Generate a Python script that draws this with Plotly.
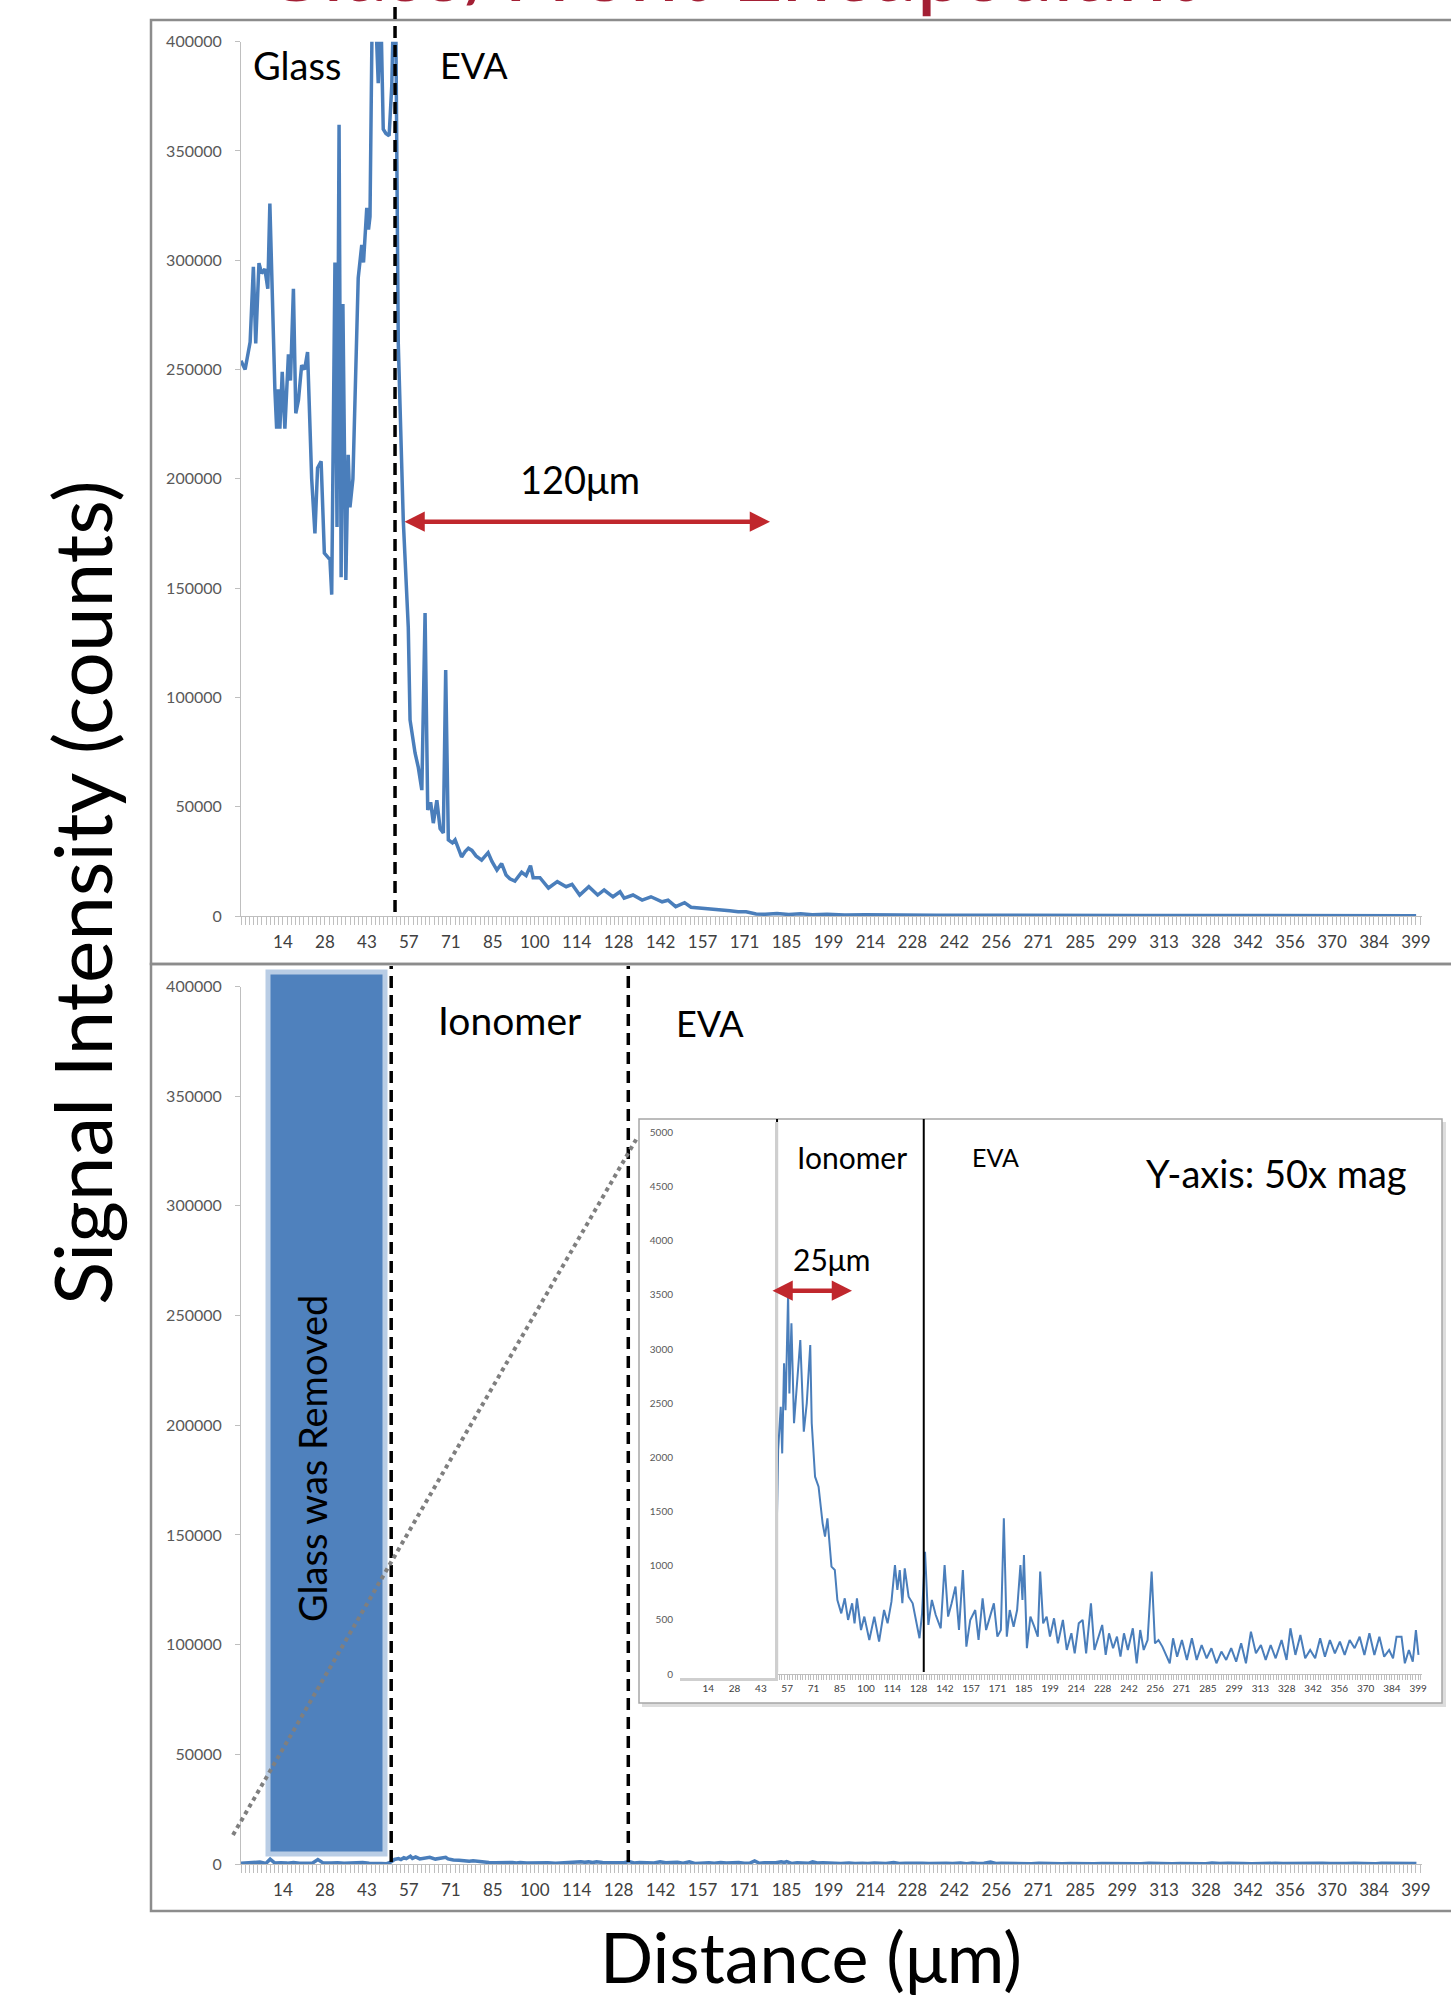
import plotly.graph_objects as go

# ---------------- data ----------------
DIST_TOP = [0, 1.4, 3.1, 4.2, 5.0, 6.1, 7.0, 8.1, 9.1, 9.8, 11.5, 12.1, 12.7, 13.2, 14.0, 14.9,
            16.1, 16.8, 17.8, 18.6, 19.5, 20.6, 21.6, 22.6, 24.0, 25.1, 26.0, 27.2, 28.3, 30.2,
            30.8, 31.9, 32.6, 33.3, 34.0, 34.6, 35.6, 36.4, 37.0, 38.0, 39.8, 41.0, 41.6, 42.7,
            43.3, 43.8, 44.6, 45.5, 46.6, 47.4, 48.3, 49.2, 50.3, 51.2, 52.0, 52.5, 53.4, 54.6,
            55.1, 56.8, 57.4, 59.1, 60.2, 61.4, 62.5, 63.4, 64.4, 65.3, 66.5, 67.6, 68.7, 69.5,
            70.4, 71.8, 72.7, 74.9, 76.1, 77.2, 78.4, 79.8, 81.7, 83.9, 85.2, 86.9, 88.5, 90.0,
            91.3, 93.0, 95.3, 96.8, 98.3, 99.2, 101.5, 104.4, 107.4, 110.4, 112.4, 115.0, 118.1,
            121.1, 123.3, 126.3, 128.7, 130.1, 133.1, 136.2, 139.2, 143.0, 145.0, 147.6, 150.6,
            152.8, 155.9, 159.3, 162.6, 166.0, 168.8, 171.5, 174.9, 178, 182, 186, 190, 194, 199,
            205, 212, 220, 228, 236, 245, 255, 265, 275, 290, 305, 320, 335, 350, 365, 380, 399]
SIGNAL_TOP = [254000, 250000, 262600, 297000, 262000, 298700, 294000, 296000, 287000, 326000,
              241000, 223000, 241000, 223000, 249000, 223000, 257000, 245000, 287000, 230000,
              236000, 252000, 250000, 258000, 200000, 175000, 205000, 208000, 166000, 163000,
              147000, 299000, 178000, 362000, 155000, 280000, 153700, 211000, 187000, 200000,
              292000, 307000, 299000, 324000, 314000, 320000, 420000, 420000, 381000, 420000,
              360000, 358000, 357000, 380000, 430000, 420000, 262000, 208600, 181000, 132000,
              89700, 74600, 68000, 57600, 138600, 48500, 52000, 42500, 53000, 40000, 38000,
              112500, 34800, 33400, 34800, 27000, 29500, 31000, 30000, 27500, 25600, 29000,
              25000, 21000, 24000, 18800, 17000, 16000, 20000, 18500, 23000, 17500, 17500, 12800,
              15700, 13400, 14500, 9600, 13400, 9600, 11900, 8800, 11100, 8200, 9600, 7300, 8800,
              6500, 7200, 4300, 6100, 4000, 3700, 3000, 2700, 2400, 2000, 1900, 900, 800, 1100,
              700, 1000, 600, 800, 500, 600, 400, 500, 350, 400, 300, 280, 250, 220, 200, 220,
              180, 200, 170, 190, 160]

DIST_BOTTOM = [0, 2.1, 4.3, 6.4, 8.5, 9.9, 11.5, 13.5, 15.7, 17.8, 19.9, 22.1, 24.2, 26.1, 28.0,
               30.6, 32.8, 35.0, 37.1, 39.2, 41.3, 43.5, 45.6, 47.7, 49.5,
               50.8, 52.1, 53.5, 54.3, 55.3, 56.1, 57.5, 58.2, 59.3, 60.7, 62.3, 64.1, 66.0,
               67.6, 69.5, 70.3, 72.1, 74.0, 76.2, 77.5, 78.8, 81.0, 82.8, 84.2, 86.3, 88.2,
               90.0, 92.2, 93.5, 94.8, 97.0, 98.8, 101.5, 104.2, 106.8, 109.5, 111.4, 113.5,
               115.4, 116.7, 118.0, 119.4, 120.7, 122.8, 125.0, 126.8, 128.7, 130.1, 131.7,
               133.5, 135.4, 137.5, 140.2, 142.3, 144.2, 146.1, 148.2, 150.1, 152.2, 154.1,
               156.2, 158.9, 160.7, 162.9, 164.8, 166.9, 169.0, 170.9, 172.8, 174.4, 176.0,
               177.6, 179.7, 181.6, 183.4, 184.5, 185.3, 186.9, 188.8, 190.9, 192.8, 194.1,
               195.7, 197.6, 199.4, 201.6, 203.7, 206.4, 208.5, 211.0, 212.8, 215.0, 217.1,
               219.0, 221.6, 223.5, 225.6, 227.7, 229.6, 231.4, 233.6, 235.7, 237.6, 239.5,
               241.6, 244.3, 246.4, 248.3, 250.2, 252.3, 254.5, 256.3, 258.2, 260.3, 264.3,
               266.1, 268.3, 270.9, 273.6, 276.3, 278.9, 281.6, 284.3, 286.9, 289.6, 292.3,
               294.9, 297.6, 300.3, 303.0, 305.6, 308.3, 311.0, 313.7, 316.3, 319.0, 321.7,
               324.9, 327.6, 329.7, 332.4, 335.1, 337.7, 340.4, 343.1, 345.8, 348.4, 351.1,
               353.8, 356.5, 359.1, 361.8, 364.5, 367.2, 369.8, 372.5, 375.2, 377.9, 380.5,
               383.2, 385.3, 387.2, 389.9, 391.7, 393.9, 396.0, 397.7, 399.1]
SIGNAL_BOTTOM = [300, 500, 350, 900, 300, 2200, 400, 600, 400, 700, 300, 500, 350, 2000, 400,
                 400, 600, 300, 500, 350, 700, 300, 400, 200, 129,
                 837, 2068, 2468, 2037, 2869, 2436, 3515, 2591, 3238, 2315, 2683, 3084, 2237,
                 2499, 3038, 2315, 1822, 1729, 1391, 1268, 1437, 991, 960, 683, 560, 699,
                 499, 653, 468, 699, 406, 530, 314, 530, 299, 591, 468, 668,
                 1006, 776, 960, 653, 976, 714, 653, 499, 330, 560, 1129,
                 453, 684, 545, 422, 1006, 530, 653, 807, 406, 960, 253,
                 499, 591, 314, 699, 406, 530, 653, 345, 406, 1437, 345,
                 591, 437, 591, 1006, 684, 1098, 238, 530, 437, 345, 945,
                 468, 530, 345, 514, 283, 499, 222, 376, 191, 468, 499,
                 191, 653, 222, 345, 453, 176, 376, 238, 345, 160, 376,
                 222, 422, 99, 406, 222, 314, 945, 283, 314, 253, 99,
                 330, 160, 314, 130, 330, 130, 268, 145, 238, 99, 207,
                 130, 238, 114, 283, 99, 391, 191, 268, 130, 268, 145,
                 314, 130, 422, 176, 360, 145, 222, 145, 330, 160, 314,
                 191, 299, 176, 314, 238, 345, 176, 376, 176, 345, 160,
                 222, 145, 345, 345, 99, 222, 114, 406, 176]

X_TICK_LABELS = ["14", "28", "43", "57", "71", "85", "100", "114", "128", "142", "157", "171",
                 "185", "199", "214", "228", "242", "256", "271", "285", "299", "313", "328",
                 "342", "356", "370", "384", "399"]
CATEGORY_STEP = 1.4248          # micrometres per measurement point
LABEL_EVERY = 10                # one label every 10 categories

GLASS_EVA_EDGE = 52.3           # top panel boundary (um)
IONOMER_START = 51.0            # bottom panel boundaries (um)
IONOMER_END = 131.5
INSET_EDGES = [51.5, 131.0]

# ---------------- layout helpers ----------------
W, H = 1451, 1997
def px(x):
    return x / W
def py(y):
    return 1 - y / H

BLUE = "#4A7EBB"
RED = "#C0272D"
TICK_FONT = "Liberation Sans Narrow, Arial Narrow, Lato, sans-serif"
TEXT_FONT = "Lato, Carlito, Open Sans, sans-serif"

tickvals = [CATEGORY_STEP * LABEL_EVERY * (k + 1) for k in range(len(X_TICK_LABELS))]

fig = go.Figure()
fig.add_trace(go.Scatter(x=DIST_TOP, y=SIGNAL_TOP, mode="lines",
                         line=dict(color=BLUE, width=3.5), xaxis="x", yaxis="y",
                         showlegend=False, hoverinfo="skip"))
fig.add_trace(go.Scatter(x=DIST_BOTTOM, y=SIGNAL_BOTTOM, mode="lines",
                         line=dict(color=BLUE, width=3.5), xaxis="x2", yaxis="y2",
                         showlegend=False, hoverinfo="skip"))
fig.add_trace(go.Scatter(x=DIST_BOTTOM, y=SIGNAL_BOTTOM, mode="lines",
                         line=dict(color=BLUE, width=2), xaxis="x3", yaxis="y3",
                         showlegend=False, hoverinfo="skip"))

def xaxis_cfg(domain, anchor, fsize, ticklen, standoff):
    return dict(domain=domain, anchor=anchor, range=[0, 401], showgrid=False, zeroline=False,
                showline=True, linecolor="#BFBFBF", linewidth=1, automargin=False,
                tickmode="array", tickvals=tickvals, ticktext=X_TICK_LABELS,
                ticks="outside", ticklen=ticklen, tickcolor="#BFBFBF", tickwidth=1,
                tickangle=0, ticklabelstandoff=standoff,
                tickfont=dict(family=TICK_FONT, size=fsize, color="#404040"),
                minor=dict(ticks="outside", ticklen=ticklen, tickcolor="#BFBFBF",
                           tick0=0, dtick=CATEGORY_STEP, showgrid=False),
                fixedrange=True)

def yaxis_cfg(domain, anchor, rng, dtick, fsize, showline, standoff):
    return dict(domain=domain, anchor=anchor, range=rng, dtick=dtick, tick0=0,
                showgrid=False, zeroline=False, showline=showline, linecolor="#BFBFBF",
                ticks="outside" if showline else "", ticklen=5, tickcolor="#BFBFBF",
                tickformat="d", ticklabelstandoff=standoff, automargin=False,
                tickfont=dict(family=TICK_FONT, size=fsize, color="#595959"),
                fixedrange=True)

fig.update_layout(
    width=W, height=H, margin=dict(l=0, r=0, t=0, b=0, pad=0, autoexpand=False),
    paper_bgcolor="white", plot_bgcolor="rgba(0,0,0,0)",
    xaxis=xaxis_cfg([px(241), px(1422)], "y", 17, 8, 3),
    yaxis=yaxis_cfg([py(916), py(41.7)], "x", [0, 400000], 50000, 16, True, 10),
    xaxis2=xaxis_cfg([px(241), px(1422)], "y2", 17, 8, 3),
    yaxis2=yaxis_cfg([py(1864), py(986.5)], "x2", [0, 400000], 50000, 16, True, 10),
    xaxis3=xaxis_cfg([px(682), px(1422)], "y3", 10, 5, 0),
    yaxis3=yaxis_cfg([py(1674), py(1132.5)], "x3", [0, 5000], 500, 10, False, 8),
)

shapes = []
# panel frames
shapes.append(dict(type="rect", xref="paper", yref="paper", x0=px(151), x1=px(1470),
                   y0=py(964), y1=py(20), line=dict(color="#8C8C8C", width=2.5), layer="below"))
shapes.append(dict(type="rect", xref="paper", yref="paper", x0=px(151), x1=px(1470),
                   y0=py(1911), y1=py(964), line=dict(color="#8C8C8C", width=2.5), layer="below"))
# inset frame with shadow
shapes.append(dict(type="rect", xref="paper", yref="paper", x0=px(642), x1=px(1446),
                   y0=py(1707), y1=py(1122), fillcolor="#DDDDDD", line=dict(width=0), layer="below"))
shapes.append(dict(type="rect", xref="paper", yref="paper", x0=px(639), x1=px(1442),
                   y0=py(1703), y1=py(1119), fillcolor="white",
                   line=dict(color="#A6A6A6", width=1.5), layer="below"))
# top dashed boundary
shapes.append(dict(type="line", xref="x", yref="paper", x0=GLASS_EVA_EDGE, x1=GLASS_EVA_EDGE,
                   y0=py(912), y1=1, line=dict(color="black", width=3.5, dash="12px,7px")))
# bottom dashed boundaries
for xb in [IONOMER_START, IONOMER_END]:
    shapes.append(dict(type="line", xref="x2", yref="paper", x0=xb, x1=xb,
                       y0=py(1862), y1=py(966), line=dict(color="black", width=3.5, dash="12px,7px")))
# inset solid boundaries
for xb in INSET_EDGES:
    shapes.append(dict(type="line", xref="x3", yref="paper", x0=xb, x1=xb,
                       y0=py(1672), y1=py(1119), line=dict(color="black", width=2)))
# inset white cover with shadow
shapes.append(dict(type="rect", xref="paper", yref="paper", x0=px(680), x1=px(778),
                   y0=py(1681), y1=py(1122), fillcolor="#CFCFCF", line=dict(width=0), layer="above"))
shapes.append(dict(type="rect", xref="paper", yref="paper", x0=px(677), x1=px(775),
                   y0=py(1678), y1=py(1120), fillcolor="white", line=dict(width=0), layer="above"))
# blue "glass was removed" block
shapes.append(dict(type="rect", xref="paper", yref="paper", x0=px(268), x1=px(385),
                   y0=py(1854), y1=py(972), fillcolor="#4F81BD",
                   line=dict(color="#B9CDE5", width=5), layer="above"))
# dotted zoom connector
shapes.append(dict(type="line", xref="paper", yref="paper", x0=px(233), y0=py(1835),
                   x1=px(637), y1=py(1138), line=dict(color="#7F7F7F", width=4, dash="dot"),
                   layer="above"))
fig.update_layout(shapes=shapes)

ann = []
def text(x, y, s, size, color="black", angle=0, family=TEXT_FONT, **kw):
    ann.append(dict(x=px(x), y=py(y), xref="paper", yref="paper", text=s, showarrow=False,
                    textangle=angle, font=dict(family=family, size=size, color=color),
                    xanchor="center", yanchor="middle", **kw))

# cut-off title at the very top
ann.append(dict(x=px(728), y=py(22), xref="paper", yref="paper", text="Glass/Front Encapsulant",
                showarrow=False, font=dict(family=TEXT_FONT, size=88, color="#A31F34"),
                xanchor="center", yanchor="bottom"))
text(297, 65, "Glass", 38)
text(474, 65, "EVA", 36)
text(580, 479, "120μm", 38)
text(509, 1020, "Ionomer", 39)
text(710, 1023, "EVA", 36)
text(312, 1459, "Glass was Removed", 38, angle=-90)
text(852, 1157, "Ionomer", 30)
text(995, 1157, "EVA", 25)
text(1276, 1173, "Y-axis: 50x mag", 38)
text(831, 1259, "25μm", 30)
text(81, 893, "Signal Intensity (counts)", 80, angle=-90)
text(811, 1956, "Distance (μm)", 70)

# double-headed red arrows
ann.append(dict(xref="paper", yref="paper", axref="pixel", ayref="pixel",
                x=px(770), y=py(521.7), ax=-(770 - 403), ay=0, text="", showarrow=True,
                arrowhead=2, arrowside="end+start", arrowsize=0.9, arrowwidth=4.5,
                arrowcolor=RED, standoff=0, startstandoff=0))
ann.append(dict(xref="paper", yref="paper", axref="pixel", ayref="pixel",
                x=px(852), y=py(1290.7), ax=-(852 - 771), ay=0, text="", showarrow=True,
                arrowhead=2, arrowside="end+start", arrowsize=0.9, arrowwidth=4.5,
                arrowcolor=RED, standoff=0, startstandoff=0))
fig.update_layout(annotations=ann)

fig.write_html("out.html",
               config={"displayModeBar": False, "staticPlot": True},
               post_script="document.body.style.margin='0px';"
                           "document.documentElement.style.overflow='hidden';")
